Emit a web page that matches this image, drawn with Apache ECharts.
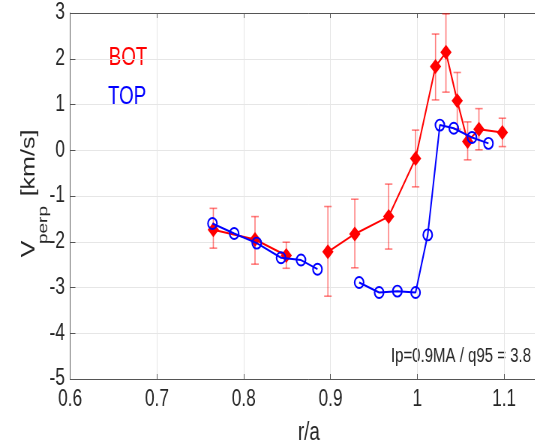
<!DOCTYPE html>
<html>
<head>
<meta charset="utf-8">
<script src="https://cdn.jsdelivr.net/npm/echarts@6/dist/echarts.min.js"></script>
<style>
html,body{margin:0;padding:0;background:#fff;overflow:hidden}
#wrap{width:535px;height:444px;overflow:hidden;position:relative}
#c{width:730px;height:444px;transform:scaleX(0.75);transform-origin:0 0;position:absolute;left:0;top:0}
</style>
</head>
<body>
<div id="wrap"><div id="c"></div></div>
<script>
// BOT (red diamonds) — two connected segments
const botX1 = [0.765, 0.813, 0.849];
const botY1 = [-1.74, -1.95, -2.30];
const botHi1 = [-1.27, -1.45, -2.01];
const botLo1 = [-2.14, -2.49, -2.58];
const botX2 = [0.897, 0.928, 0.967, 0.998, 1.021, 1.033, 1.046, 1.058, 1.071, 1.098];
const botY2 = [-2.22, -1.83, -1.45, -0.18, 1.83, 2.14, 1.08, 0.19, 0.46, 0.39];
const botHi2 = [-1.23, -1.07, -0.74, 0.44, 2.54, 2.98, 1.70, 0.62, 0.91, 0.70];
const botLo2 = [-3.19, -2.57, -2.16, -0.80, 1.10, 1.27, 0.46, -0.21, 0.01, 0.08];
// TOP (blue circles) — two connected segments
const topX1 = [0.764, 0.789, 0.815, 0.843, 0.866, 0.885];
const topY1 = [-1.60, -1.82, -2.03, -2.35, -2.40, -2.60];
const topX2 = [0.933, 0.956, 0.977, 0.998, 1.012, 1.026, 1.042, 1.063, 1.082];
const topY2 = [-2.89, -3.11, -3.08, -3.11, -1.85, 0.55, 0.48, 0.28, 0.15];
const xTicks = [0.6, 0.7, 0.8, 0.9, 1.0, 1.1];
const yTicks = [-5, -4, -3, -2, -1, 0, 1, 2, 3];

const FONT = "'Liberation Sans',Arial,Helvetica,sans-serif";
const zip = (a, b) => a.map((v, i) => [v, b[i]]);
const errData = (x, lo, hi) => x.map((v, i) => [v, lo[i], hi[i]]);

function errRender(params, api) {
  const x = api.value(0);
  const lo = api.coord([x, api.value(1)]);
  const hi = api.coord([x, api.value(2)]);
  const w = 5;
  const st = { stroke: 'rgba(255,0,0,0.5)', lineWidth: 1.6, fill: null };
  return {
    type: 'group',
    children: [
      { type: 'line', shape: { x1: lo[0], y1: lo[1], x2: hi[0], y2: hi[1] }, style: st },
      { type: 'line', shape: { x1: lo[0] - w, y1: lo[1], x2: lo[0] + w, y2: lo[1] }, style: st },
      { type: 'line', shape: { x1: hi[0] - w, y1: hi[1], x2: hi[0] + w, y2: hi[1] }, style: st }
    ]
  };
}

const axisCol = '#555';
const labelCol = '#262626';

function botLine(data) {
  return {
    type: 'line', data, symbol: 'diamond', symbolSize: [15, 15],
    lineStyle: { color: '#ff0000', width: 2 },
    itemStyle: { color: '#ff0000' }, z: 3, animation: false
  };
}
function topLine(data) {
  return {
    type: 'line', data, symbol: 'circle', symbolSize: [12, 11],
    lineStyle: { color: '#0000ff', width: 2 },
    itemStyle: { color: 'rgba(255,255,255,0)', borderColor: '#0000ff', borderWidth: 2 }, z: 4, animation: false
  };
}
const fmt = ticks => v => { const t = ticks.find(k => Math.abs(k - v) < 1e-6); return t === undefined ? '' : String(t); };
const vText = (text, x, y, size) => ({
  type: 'text', x, y, rotation: Math.PI / 2,
  style: { text, fill: labelCol, font: size + 'px ' + FONT, align: 'center', verticalAlign: 'middle' }
});

const chart = echarts.init(document.getElementById('c'));
chart.setOption({
  backgroundColor: '#fff',
  animation: false,
  grid: { left: 93.5, top: 13, right: 0, bottom: 65, containLabel: false, outerBoundsMode: 'none' },
  xAxis: [{
    type: 'value', min: 0.6, max: 1.15, interval: 0.1,
    name: 'r/a', nameLocation: 'middle', nameGap: 42,
    nameTextStyle: { fontFamily: FONT, fontSize: 25, color: labelCol },
    axisLine: { show: true, onZero: false, lineStyle: { color: axisCol, width: 1 } },
    axisTick: { show: true, inside: true, length: 5, lineStyle: { color: axisCol } },
    axisLabel: { fontFamily: FONT, fontSize: 23, color: labelCol, margin: 9, showMaxLabel: false, formatter: fmt(xTicks) },
    splitLine: { show: true, lineStyle: { color: '#e6e6e6', width: 1 } }
  }, {
    type: 'value', position: 'top', min: 0.6, max: 1.15, interval: 0.1,
    axisLine: { show: true, onZero: false, lineStyle: { color: axisCol, width: 1 } },
    axisTick: { show: true, inside: true, length: 5, lineStyle: { color: axisCol } },
    axisLabel: { show: false }, splitLine: { show: false }
  }],
  yAxis: {
    type: 'value', min: -5, max: 3, interval: 1,
    axisLine: { show: true, onZero: false, lineStyle: { color: axisCol, width: 1 } },
    axisTick: { show: true, inside: true, length: 7, lineStyle: { color: axisCol } },
    axisLabel: { fontFamily: FONT, fontSize: 23, color: labelCol, margin: 7, formatter: fmt(yTicks) },
    splitLine: { show: true, lineStyle: { color: '#e6e6e6', width: 1 } }
  },
  graphic: [
    vText('V', 39, 249, 25),
    vText('perp', 58, 225, 19),
    vText('[km/s]', 39, 163, 25),
    { type: 'text', left: 145, top: 46, style: { text: 'BOT', fill: '#ff0000', font: "25px " + FONT } },
    { type: 'text', left: 144, top: 85, style: { text: 'TOP', fill: '#0000ff', font: "25px " + FONT } },
    { type: 'text', right: 22, top: 346, style: { text: 'Ip=0.9MA / q95 = 3.8', fill: labelCol, font: "20px " + FONT } }
  ],
  series: [
    { type: 'custom', renderItem: errRender, data: errData(botX1, botLo1, botHi1), encode: { x: 0, y: [1, 2] }, z: 2, animation: false },
    { type: 'custom', renderItem: errRender, data: errData(botX2, botLo2, botHi2), encode: { x: 0, y: [1, 2] }, z: 2, animation: false },
    botLine(zip(botX1, botY1)),
    botLine(zip(botX2, botY2)),
    topLine(zip(topX1, topY1)),
    topLine(zip(topX2, topY2))
  ]
});
</script>
</body>
</html>
